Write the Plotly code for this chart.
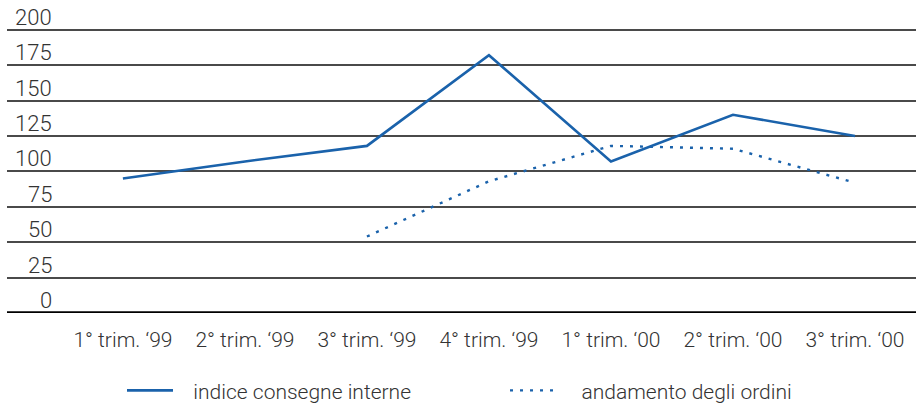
import plotly.graph_objects as go

quarters = ["1° trim. ‘99", "2° trim. ‘99", "3° trim. ‘99", "4° trim. ‘99",
            "1° trim. ‘00", "2° trim. ‘00", "3° trim. ‘00"]
consegne_interne = [95, 107, 118, 182, 107, 140, 125]
ordini_quarters = quarters[2:]
ordini = [54, 93, 118, 116, 92]
y_ticks = [0, 25, 50, 75, 100, 125, 150, 175, 200]

BLUE = "#1a62ab"
TEXT = "#333333"
FONT = "Roboto"
NBSP = "\u00a0"

fig = go.Figure()
fig.add_trace(go.Scatter(
    x=quarters, y=consegne_interne, mode="lines",
    name=NBSP * 3 + "indice consegne interne",
    line=dict(color=BLUE, width=2.6), legend="legend",
))
fig.add_trace(go.Scatter(
    x=ordini_quarters, y=ordini, mode="lines",
    name=NBSP * 4 + "andamento degli ordini",
    line=dict(color=BLUE, width=2.4, dash="3px,7px"), legend="legend2",
))

# value labels sit just above each gridline, right-aligned
for v in y_ticks:
    fig.add_annotation(
        x=(54 - 7) / 909, xref="paper", xanchor="right",
        y=v, yref="y", yanchor="bottom", yshift=-2,
        text=str(v), showarrow=False,
        font=dict(family=FONT, size=22, color=TEXT, weight=300),
    )

# heavy baseline at zero
fig.add_shape(type="line", xref="paper", x0=0, x1=1, yref="y", y0=0, y1=0,
              line=dict(color="black", width=3.5), layer="above")

legend_common = dict(
    orientation="h", xref="container", yref="container",
    yanchor="middle", y=0.0305, itemwidth=46,
    font=dict(family=FONT, size=21, color=TEXT, weight=300),
    bgcolor="rgba(0,0,0,0)",
)

fig.update_layout(
    width=916, height=403,
    margin=dict(l=7, r=0, t=0, b=90),
    plot_bgcolor="white", paper_bgcolor="white",
    showlegend=True,
    legend=dict(x=122 / 916, xanchor="left", **legend_common),
    legend2=dict(x=505 / 916, xanchor="left", **legend_common),
    xaxis=dict(
        type="category", range=[-0.95, 6.5],
        showgrid=False, zeroline=False, showline=False, ticks="",
        ticklabelstandoff=12,
        tickfont=dict(family=FONT, size=21, color=TEXT, weight=300),
    ),
    yaxis=dict(
        range=[0, 221], tickvals=y_ticks, showticklabels=False,
        showgrid=True, gridcolor="#4a4a4a", gridwidth=1.5,
        zeroline=False, showline=False, ticks="",
    ),
)

fig.write_html("out.html")
